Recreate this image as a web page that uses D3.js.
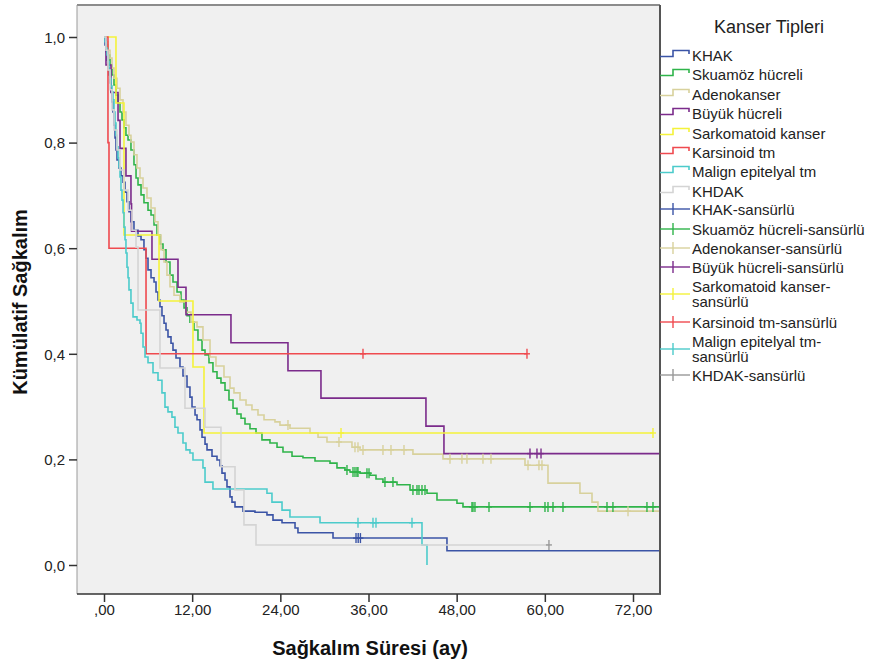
<!DOCTYPE html>
<html><head><meta charset="utf-8">
<script src="https://cdn.jsdelivr.net/npm/d3@7/dist/d3.min.js"></script>
<style>
html,body{margin:0;padding:0;background:#fff;}
text{font-family:"Liberation Sans",Arial,sans-serif;}
</style></head>
<body><svg id="c" width="873" height="666"></svg>
<script>
// ---------- DATA ----------
const categories = ["KHAK","Skuamöz hücreli","Adenokanser","Büyük hücreli","Sarkomatoid kanser","Karsinoid tm","Malign epitelyal tm","KHDAK"];
const censorLabels = ["KHAK-sansürlü","Skuamöz hücreli-sansürlü","Adenokanser-sansürlü","Büyük hücreli-sansürlü","Sarkomatoid kanser-\nsansürlü","Karsinoid tm-sansürlü","Malign epitelyal tm-\nsansürlü","KHDAK-sansürlü"];
const xTickValues = [0,12,24,36,48,60,72];
const xTickLabels = [",00","12,00","24,00","36,00","48,00","60,00","72,00"];
const yTickValues = [0,0.2,0.4,0.6,0.8,1.0];
const yTickLabels = ["0,0","0,2","0,4","0,6","0,8","1,0"];

// step points [time (months), survival after event]
const khakSteps = [[0.14,0.985],[0.27,0.972],[0.41,0.956],[0.54,0.941],[0.68,0.928],[0.82,0.913],[0.95,0.896],[1.09,0.877],[1.22,0.858],[1.36,0.833],[1.50,0.809],[1.63,0.786],[1.77,0.767],[2.04,0.752],[2.31,0.737],[2.59,0.725],[2.86,0.706],[3.13,0.688],[3.40,0.669],[3.67,0.650],[4.08,0.634],[4.63,0.623],[5.04,0.616],[5.44,0.597],[5.72,0.581],[5.99,0.559],[6.40,0.544],[6.81,0.536],[7.08,0.517],[7.35,0.502],[7.62,0.489],[7.89,0.472],[8.17,0.458],[8.44,0.445],[8.71,0.432],[9.12,0.420],[9.39,0.407],[9.80,0.392],[10.34,0.375],[10.75,0.358],[11.30,0.337],[11.70,0.318],[11.98,0.299],[12.39,0.284],[12.66,0.275],[13.07,0.256],[13.34,0.242],[13.75,0.229],[14.02,0.218],[14.70,0.206],[15.38,0.199],[15.79,0.188],[16.06,0.174],[16.47,0.161],[16.74,0.148],[17.15,0.129],[17.42,0.119],[17.83,0.110],[18.92,0.102],[20.55,0.100],[22.18,0.095],[23.00,0.085],[24.23,0.080],[26.00,0.070],[26.40,0.061],[31.17,0.051],[46.68,0.027]];
const skuamozSteps = [[0.27,0.985],[0.54,0.966],[0.82,0.947],[1.09,0.928],[1.36,0.909],[1.63,0.890],[1.91,0.875],[2.18,0.858],[2.45,0.843],[2.72,0.828],[2.99,0.814],[3.27,0.805],[3.67,0.786],[4.08,0.758],[4.36,0.733],[4.63,0.720],[5.04,0.701],[5.44,0.686],[5.99,0.672],[6.40,0.663],[6.81,0.644],[7.21,0.625],[7.62,0.608],[8.03,0.597],[8.44,0.574],[8.98,0.549],[9.39,0.536],[9.94,0.517],[10.48,0.502],[10.89,0.487],[11.30,0.472],[11.70,0.460],[12.25,0.445],[12.79,0.426],[13.34,0.407],[13.75,0.398],[14.29,0.383],[14.83,0.366],[15.38,0.354],[15.92,0.345],[16.47,0.331],[17.01,0.3125],[17.56,0.297],[18.10,0.286],[18.65,0.278],[19.19,0.267],[19.87,0.258],[20.69,0.250],[21.50,0.237],[22.59,0.231],[23.55,0.223],[24.36,0.214],[25.59,0.206],[27.08,0.203],[28.72,0.197],[30.76,0.193],[31.71,0.184],[32.80,0.180],[33.48,0.176],[34.84,0.174],[36.20,0.170],[37.02,0.163],[37.97,0.157],[39.88,0.152],[41.65,0.142],[43.96,0.136],[45.32,0.123],[48.04,0.117],[48.86,0.110]];
const adenoSteps = [[0.27,0.991],[0.54,0.975],[0.82,0.960],[1.09,0.941],[1.36,0.922],[1.77,0.903],[2.18,0.881],[2.59,0.858],[2.99,0.833],[3.40,0.814],[3.67,0.801],[4.08,0.777],[4.49,0.752],[4.90,0.733],[5.31,0.714],[5.85,0.695],[6.40,0.676],[6.94,0.650],[7.35,0.625],[7.76,0.597],[8.17,0.574],[8.57,0.549],[8.98,0.527],[9.53,0.511],[10.34,0.498],[11.16,0.479],[11.84,0.460],[12.66,0.451],[13.47,0.426],[14.43,0.394],[15.24,0.377],[16.33,0.356],[17.15,0.335],[17.69,0.326],[18.51,0.3125],[19.33,0.303],[20.14,0.294],[20.96,0.284],[21.78,0.275],[23.27,0.271],[23.95,0.265],[25.31,0.259],[28.04,0.250],[29.13,0.242],[30.35,0.233],[33.75,0.223],[34.84,0.218],[42.05,0.210],[46.14,0.201],[57.30,0.189],[60.43,0.155],[64.78,0.136],[66.42,0.119],[67.23,0.102]];
const buyukSteps = [[0.27,0.947],[0.95,0.895],[1.91,0.842],[2.18,0.789],[2.99,0.737],[3.67,0.684],[3.75,0.632],[6.53,0.579],[10.07,0.526],[11.16,0.474],[17.28,0.421],[25.04,0.368],[29.53,0.316],[43.82,0.263],[46.27,0.211]];
const sarkomSteps = [[1.63,0.875],[2.72,0.625],[7.49,0.5],[12.11,0.375],[13.61,0.25]];
const karsinoidSteps = [[0.54,0.8],[0.68,0.6],[5.72,0.4]];
const malignSteps = [[0.14,0.991],[0.27,0.979],[0.41,0.966],[0.54,0.953],[0.68,0.9375],[0.82,0.922],[0.95,0.907],[1.09,0.896],[1.22,0.881],[1.36,0.858],[1.50,0.837],[1.63,0.814],[1.77,0.792],[1.91,0.771],[2.04,0.754],[2.18,0.735],[2.31,0.710],[2.45,0.691],[2.59,0.667],[2.72,0.640],[2.86,0.616],[2.99,0.591],[3.13,0.564],[3.27,0.544],[3.40,0.521],[3.67,0.496],[3.95,0.470],[4.49,0.464],[4.90,0.458],[5.04,0.439],[5.31,0.413],[5.58,0.394],[5.99,0.383],[6.67,0.364],[7.35,0.350],[7.89,0.326],[8.30,0.299],[8.71,0.290],[9.25,0.280],[9.66,0.261],[10.07,0.250],[10.75,0.231],[11.16,0.218],[11.70,0.212],[12.11,0.199],[13.47,0.184],[13.75,0.157],[14.83,0.144],[22.18,0.136],[22.86,0.119],[24.23,0.104],[25.31,0.091],[29.40,0.080],[43.28,0.038],[43.96,0]];
const khdakSteps = [[0.27,0.975],[0.54,0.9375],[0.82,0.900],[1.09,0.862],[1.36,0.824],[1.77,0.786],[2.18,0.748],[2.72,0.710],[3.27,0.672],[3.81,0.634],[4.36,0.602],[4.63,0.483],[7.62,0.373],[11.02,0.297],[13.75,0.261],[15.92,0.186],[17.83,0.142],[19.05,0.076],[20.69,0.038]];

// censored times (months)
const khakCensor = [34.3,34.6,34.9];
const skuamozCensor = [33.07,33.89,34.16,34.43,34.57,35.79,36.07,38.24,39.33,42.05,42.60,42.87,43.28,43.69,50.08,50.22,50.49,52.40,57.98,60.02,60.43,61.11,62.47,68.46,69.27,73.90,74.72];
const adenoCensor = [25.04,31.98,34.16,34.57,35.25,37.97,39.06,40.83,47.09,48.72,49.40,51.58,52.67,57.71,59.20,59.61,71.32];
const buyukCensor = [57.98,58.93,59.48];
const sarkomCensor = [32.26,74.72];
const karsinoidCensor = [35.25,57.57];
const malignCensor = [34.57,36.61,37.02,41.92];
const khdakCensor = [60.56];

// last follow-up time of each group (months)
const lastFollowUp = [78,78,78,78,74.72,57.57,43.96,60.56];

const seriesColors = ["#3b54a6","#2fb44a","#d8d19c","#7b2b8b","#f4f23a","#ef4a4f","#4ccbcb","#d4d4d4"];
const censorColors = ["#3b54a6","#2fb44a","#d8d19c","#7b2b8b","#f4f23a","#ef4a4f","#4ccbcb","#999999"];

const allSteps = [khakSteps,skuamozSteps,adenoSteps,buyukSteps,sarkomSteps,karsinoidSteps,malignSteps,khdakSteps];
const allCensor = [khakCensor,skuamozCensor,adenoCensor,buyukCensor,sarkomCensor,karsinoidCensor,malignCensor,khdakCensor];

// ---------- LAYOUT ----------
const svg = d3.select("#c");
const P = {l:77, r:660, t:5, b:594};
const x = d3.scaleLinear().domain([0,72]).range([104,633]);
const y = d3.scaleLinear().domain([0,1]).range([565,37]);

svg.append("rect").attr("x",P.l).attr("y",P.t).attr("width",P.r-P.l).attr("height",P.b-P.t).attr("fill","#f0f0f0");

svg.append("defs").append("clipPath").attr("id","clip")
  .append("rect").attr("x",P.l).attr("y",P.t).attr("width",P.r-P.l).attr("height",P.b-P.t);

const plot = svg.append("g").attr("clip-path","url(#clip)");

function survAt(steps,t){
  let s=1;
  for(const [tt,ss] of steps){ if(tt<=t) s=ss; else break; }
  return s;
}

const line = d3.line().x(d=>x(d[0])).y(d=>y(d[1])).curve(d3.curveStepAfter);

allSteps.forEach((steps,i)=>{
  const pts=[[0,1],...steps];
  pts.push([lastFollowUp[i], steps[steps.length-1][1]]);
  plot.append("path").attr("d",line(pts)).attr("fill","none")
    .attr("stroke",seriesColors[i]).attr("stroke-width",1.6);
});
allCensor.forEach((cs,i)=>{
  cs.forEach(t=>{
    const s=survAt(allSteps[i],t);
    const cx=x(t), cy=y(s);
    plot.append("line").attr("x1",cx).attr("x2",cx).attr("y1",cy-5).attr("y2",cy+5)
      .attr("stroke",censorColors[i]).attr("stroke-width",1.4);
    plot.append("line").attr("x1",cx-3).attr("x2",cx+3).attr("y1",cy).attr("y2",cy)
      .attr("stroke",censorColors[i]).attr("stroke-width",1.4);
  });
});

// frame
svg.append("line").attr("x1",P.l).attr("x2",P.r).attr("y1",P.t).attr("y2",P.t).attr("stroke","#8c8c8c").attr("stroke-width",2);
svg.append("line").attr("x1",P.l).attr("x2",P.l).attr("y1",P.t).attr("y2",P.b).attr("stroke","#9a9a9a").attr("stroke-width",1);
svg.append("line").attr("x1",P.l).attr("x2",P.r+1).attr("y1",P.b).attr("y2",P.b).attr("stroke","#333").attr("stroke-width",1.6);
svg.append("line").attr("x1",P.r).attr("x2",P.r).attr("y1",P.t).attr("y2",P.b).attr("stroke","#555").attr("stroke-width",2);

// axes
const xAxis = d3.axisBottom(x).tickValues(xTickValues).tickSize(8).tickSizeOuter(0)
  .tickFormat((d,i)=>xTickLabels[i]);
const gx = svg.append("g").attr("transform",`translate(0,${P.b})`).call(xAxis);
gx.select(".domain").remove();
gx.selectAll(".tick line").attr("stroke","#333").attr("stroke-width",1.5);
gx.selectAll(".tick text").attr("font-size",15).attr("fill","#222").attr("dy","0.95em").attr("y",7);

const yAxis = d3.axisLeft(y).tickValues(yTickValues).tickSize(8).tickSizeOuter(0)
  .tickFormat((d,i)=>yTickLabels[i]);
const gy = svg.append("g").attr("transform",`translate(${P.l},0)`).call(yAxis);
gy.select(".domain").remove();
gy.selectAll(".tick line").attr("stroke","#333").attr("stroke-width",1.5);
gy.selectAll(".tick text").attr("font-size",15).attr("fill","#222").attr("x",-12).attr("dy","0.35em");

svg.append("text").attr("x",370).attr("y",655).attr("text-anchor","middle")
  .attr("font-size",20).attr("font-weight","bold").attr("fill","#111").text("Sağkalım Süresi (ay)");
svg.append("text").attr("transform","translate(27,302) rotate(-90)").attr("text-anchor","middle")
  .attr("font-size",20).attr("font-weight","bold").attr("fill","#111").text("Kümülatif Sağkalım");

// legend
const lg = svg.append("g");
lg.append("text").attr("x",769).attr("y",33).attr("text-anchor","middle").attr("font-size",18).attr("fill","#222").text("Kanser Tipleri");
const legendY = [55,74,94,113,133,152,171,191];
const legendCY = [209,229,248,267,294,322,349,375];
categories.forEach((c,i)=>{
  const cy=legendY[i];
  lg.append("path").attr("d",`M660,${cy+1.5}H673V${cy-4.5}H689V${cy-1}`).attr("fill","none")
    .attr("stroke",seriesColors[i]).attr("stroke-width",1.6);
  lg.append("text").attr("x",692).attr("y",cy+5.5).attr("font-size",15).attr("fill","#222").text(c);
});
censorLabels.forEach((c,i)=>{
  const cy=legendCY[i];
  lg.append("line").attr("x1",660).attr("x2",690).attr("y1",cy).attr("y2",cy).attr("stroke",censorColors[i]).attr("stroke-width",1.4);
  lg.append("line").attr("x1",673).attr("x2",673).attr("y1",cy-6).attr("y2",cy+6).attr("stroke",censorColors[i]).attr("stroke-width",1.4);
  const parts=c.split("\n");
  if(parts.length===1){
    lg.append("text").attr("x",692).attr("y",cy+5.5).attr("font-size",15).attr("fill","#222").text(c);
  } else {
    lg.append("text").attr("x",692).attr("y",cy-2.5).attr("font-size",15).attr("fill","#222").text(parts[0]);
    lg.append("text").attr("x",692).attr("y",cy+13).attr("font-size",15).attr("fill","#222").text(parts[1]);
  }
});
</script></body></html>
